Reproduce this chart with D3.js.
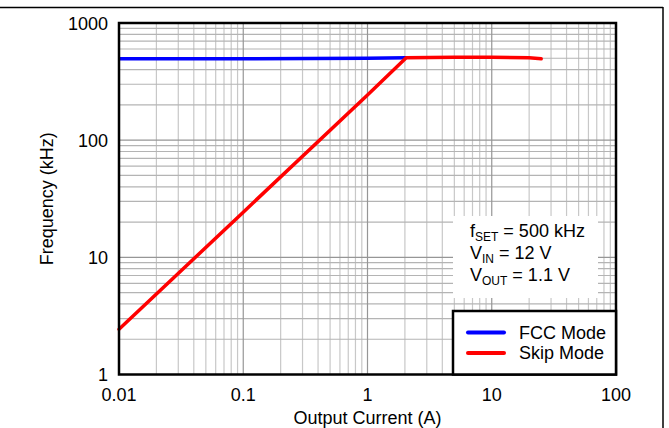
<!DOCTYPE html>
<html><head><meta charset="utf-8">
<script src="https://cdn.jsdelivr.net/npm/d3@7"></script>
<style>body{margin:0;background:#fff}svg{display:block;font-family:Arial,"Liberation Sans",sans-serif}</style>
</head><body><svg id="c" width="669" height="428"></svg>
<script>
const xTicks = [0.01, 0.1, 1, 10, 100];
const xTickLabels = ["0.01", "0.1", "1", "10", "100"];
const yTicks = [1, 10, 100, 1000];
const yTickLabels = ["1", "10", "100", "1000"];
const fccCurrent = [0.01, 0.1, 1, 2.05];
const fccFreq = [495, 496, 500, 505];
const skipCurrent = [0.01, 0.1, 1, 2.05, 5, 10, 20, 25];
const skipFreq = [2.43, 24.3, 243, 505, 510, 510, 505, 495];
const seriesNames = ["FCC Mode", "Skip Mode"];
const seriesColors = ["#0000ff", "#ff0000"];
const xTitle = "Output Current (A)";
const yTitle = "Frequency (kHz)";

const svg = d3.select("#c");
const L = 119, R = 616, T = 23, B = 374.5;
const x = d3.scaleLog().domain([0.01, 100]).range([L, R]);
const y = d3.scaleLog().domain([1, 1000]).range([B, T]);

// outer frame
svg.append("line").attr("x1", 0).attr("x2", 663).attr("y1", 7.5).attr("y2", 7.5).attr("stroke", "#000").attr("stroke-width", 1.5);
svg.append("line").attr("x1", 663).attr("x2", 663).attr("y1", 7).attr("y2", 428).attr("stroke", "#000").attr("stroke-width", 1.5);

// grid
const minorX = [], minorY = [];
for (let d = -2; d < 2; d++) for (let k = 2; k <= 9; k++) minorX.push(k * Math.pow(10, d));
for (let d = 0; d < 3; d++) for (let k = 2; k <= 9; k++) minorY.push(k * Math.pow(10, d));
const g = svg.append("g");
g.selectAll(".vx").data(minorX).join("line").attr("x1", d => x(d)).attr("x2", d => x(d)).attr("y1", T).attr("y2", B).attr("stroke", "#c8c8c8").attr("stroke-width", 1.2);
g.selectAll(".hy").data(minorY).join("line").attr("y1", d => y(d)).attr("y2", d => y(d)).attr("x1", L).attr("x2", R).attr("stroke", "#b4b4b4").attr("stroke-width", 1.2);
g.selectAll(".mx").data(xTicks).join("line").attr("x1", d => x(d)).attr("x2", d => x(d)).attr("y1", T).attr("y2", B).attr("stroke", "#969696").attr("stroke-width", 1.2);
g.selectAll(".my").data(yTicks).join("line").attr("y1", d => y(d)).attr("y2", d => y(d)).attr("x1", L).attr("x2", R).attr("stroke", "#969696").attr("stroke-width", 1.2);

// annotation white box
svg.append("rect").attr("x", 453).attr("y", 216).attr("width", 145).attr("height", 82).attr("fill", "#fff");

// lines
const line = d3.line().x(d => x(d[0])).y(d => y(d[1]));
svg.append("path").datum(fccCurrent.map((c, i) => [c, fccFreq[i]])).attr("d", line).attr("fill", "none").attr("stroke", seriesColors[0]).attr("stroke-width", 3.5).attr("stroke-linejoin", "round");
svg.append("path").datum(skipCurrent.map((c, i) => [c, skipFreq[i]])).attr("d", line).attr("fill", "none").attr("stroke", seriesColors[1]).attr("stroke-width", 3.5).attr("stroke-linejoin", "round").attr("stroke-linecap", "round");

// plot border
svg.append("rect").attr("x", L).attr("y", T).attr("width", R - L).attr("height", B - T).attr("fill", "none").attr("stroke", "#000").attr("stroke-width", 2.5);

// axes labels
const fs = "18px";
svg.selectAll(".xt").data(xTicks).join("text").attr("x", d => x(d)).attr("y", 401).attr("text-anchor", "middle").attr("font-size", fs).text((d, i) => xTickLabels[i]);
svg.selectAll(".yt").data(yTicks).join("text").attr("x", 108).attr("y", d => y(d) + 6.5).attr("text-anchor", "end").attr("font-size", fs).text((d, i) => yTickLabels[i]);
svg.append("text").attr("x", (L + R) / 2).attr("y", 424).attr("text-anchor", "middle").attr("font-size", fs).text(xTitle);
svg.append("text").attr("transform", `translate(53,${(T + B) / 2}) rotate(-90)`).attr("text-anchor", "middle").attr("font-size", fs).text(yTitle);

// annotation text
const ann = svg.append("g").attr("font-size", fs);
const t1 = ann.append("text").attr("x", 470).attr("y", 237);
t1.append("tspan").text("f");
t1.append("tspan").attr("font-size", "12px").attr("dy", 4).text("SET");
t1.append("tspan").attr("dy", -4).text(" = 500 kHz");
const t2 = ann.append("text").attr("x", 470).attr("y", 259);
t2.append("tspan").text("V");
t2.append("tspan").attr("font-size", "12px").attr("dy", 4).text("IN");
t2.append("tspan").attr("dy", -4).text(" = 12 V");
const t3 = ann.append("text").attr("x", 470).attr("y", 281);
t3.append("tspan").text("V");
t3.append("tspan").attr("font-size", "12px").attr("dy", 4).text("OUT");
t3.append("tspan").attr("dy", -4).text(" = 1.1 V");

// legend
svg.append("rect").attr("x", 453).attr("y", 311).attr("width", R - 453).attr("height", B - 311).attr("fill", "#fff").attr("stroke", "#000").attr("stroke-width", 2.5);
const ly = [332.5, 353];
seriesNames.forEach((n, i) => {
  svg.append("line").attr("x1", 468).attr("x2", 504).attr("y1", ly[i]).attr("y2", ly[i]).attr("stroke", seriesColors[i]).attr("stroke-width", 4).attr("stroke-linecap", "round");
  svg.append("text").attr("x", 519).attr("y", ly[i] + 6).attr("font-size", fs).text(n);
});
</script></body></html>
